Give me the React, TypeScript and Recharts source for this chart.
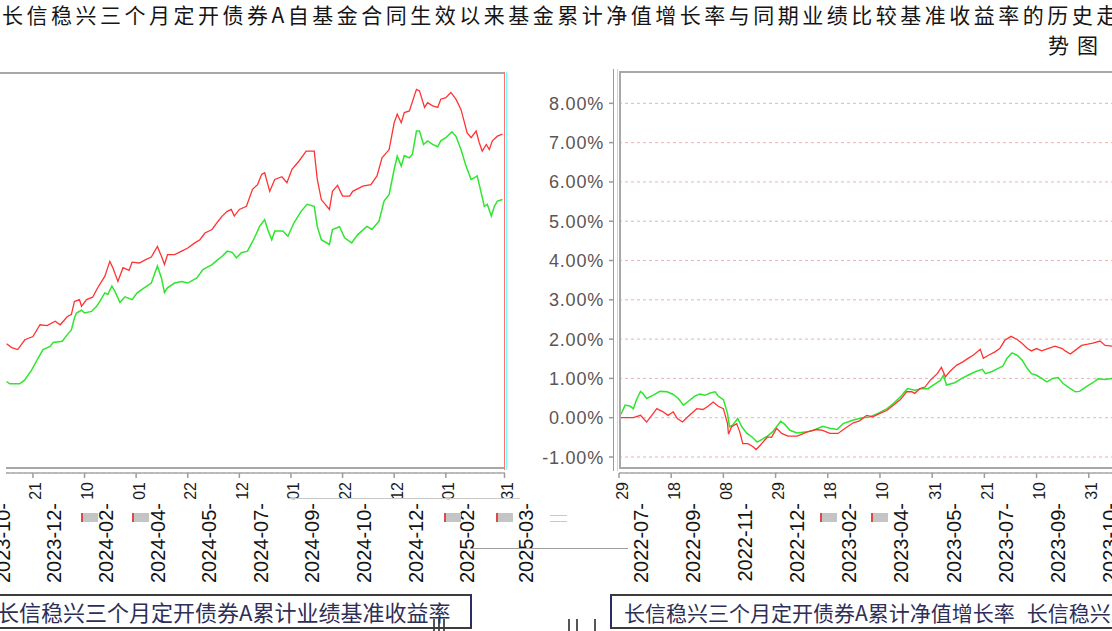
import React from 'react'
import { LineChart, Line, XAxis, YAxis, CartesianGrid } from 'recharts'

// left panel: days from 2023-12-21
const leftTicks = [-51, 0, 51, 102, 153, 204, 255, 306, 357, 408, 466]
const leftTickLabels = ['2023-10-31', '2023-12-21', '2024-02-10', '2024-04-01', '2024-05-22', '2024-07-12', '2024-09-01', '2024-10-22', '2024-12-12', '2025-02-01', '2025-03-31']

const leftBenchDays = [-26, -21, -15, -8, 0, 7, 14, 22, 27, 34, 38, 41, 46, 48, 53, 59, 64, 71, 76, 79, 84, 89, 95, 98, 105, 112, 117, 123, 127, 130, 133, 140, 147, 153, 160, 165, 170, 177, 183, 187, 192, 196, 199, 204, 211, 217, 222, 226, 229, 234, 239, 246, 251, 256, 263, 270, 278, 281, 285, 293, 296, 301, 306, 313, 316, 326, 334, 340, 345, 352, 357, 360, 364, 367, 372, 379, 382, 387, 390, 395, 400, 403, 408, 413, 418, 423, 426, 429, 433, 438, 441, 444, 448, 451, 454, 459, 464]
const leftBench = [1.91, 1.81, 1.76, 2.01, 2.09, 2.39, 2.37, 2.48, 2.39, 2.6, 2.65, 2.98, 3.03, 2.86, 3.03, 3.09, 3.33, 3.62, 4.0, 3.84, 3.49, 3.84, 3.77, 3.98, 3.96, 4.05, 4.11, 4.38, 4.13, 3.92, 4.17, 4.17, 4.26, 4.34, 4.47, 4.55, 4.72, 4.81, 5.02, 5.15, 5.27, 5.32, 5.15, 5.32, 5.4, 5.83, 5.95, 6.21, 6.25, 5.78, 6.08, 6.15, 6.0, 6.34, 6.55, 6.8, 6.8, 6.08, 5.57, 5.32, 5.78, 5.93, 5.66, 5.66, 5.78, 5.91, 5.95, 6.17, 6.63, 6.84, 7.52, 7.74, 7.52, 7.78, 7.82, 8.37, 8.33, 7.91, 8.03, 7.95, 7.91, 8.12, 8.16, 8.29, 8.12, 7.86, 7.57, 7.27, 7.14, 7.31, 7.02, 6.8, 6.97, 6.84, 7.06, 7.18, 7.23]

const leftNavDays = [-26, -23, -13, -8, -1, 5, 10, 17, 20, 29, 34, 38, 41, 43, 48, 51, 58, 63, 66, 71, 74, 78, 81, 86, 91, 98, 103, 110, 117, 123, 127, 130, 133, 140, 147, 153, 162, 168, 177, 183, 187, 192, 197, 201, 206, 212, 219, 224, 229, 232, 236, 239, 247, 252, 258, 265, 271, 278, 281, 285, 293, 296, 303, 308, 315, 321, 330, 335, 342, 347, 352, 357, 360, 364, 367, 372, 375, 379, 382, 386, 390, 395, 400, 403, 408, 414, 418, 423, 428, 433, 436, 439, 443, 446, 449, 453, 456, 459, 464]
const leftNav = [0.95, 0.89, 0.89, 0.99, 1.25, 1.54, 1.76, 1.84, 1.94, 1.97, 2.14, 2.26, 2.56, 2.69, 2.76, 2.69, 2.73, 2.86, 2.98, 3.2, 3.16, 3.37, 3.24, 2.96, 3.1, 3.03, 3.2, 3.33, 3.45, 3.88, 3.58, 3.21, 3.33, 3.45, 3.49, 3.45, 3.58, 3.79, 3.92, 4.05, 4.13, 4.26, 4.23, 4.09, 4.22, 4.26, 4.6, 4.89, 5.06, 4.81, 4.55, 4.77, 4.77, 4.64, 4.98, 5.27, 5.45, 5.4, 4.89, 4.55, 4.43, 4.81, 4.88, 4.6, 4.47, 4.68, 4.89, 4.81, 5.02, 5.53, 5.7, 6.34, 6.67, 6.42, 6.69, 6.63, 6.72, 7.31, 7.31, 6.97, 7.06, 6.97, 6.91, 7.06, 7.14, 7.29, 7.18, 6.84, 6.42, 6.08, 6.12, 6.17, 5.74, 5.4, 5.45, 5.15, 5.4, 5.53, 5.57]

// right panel: days from 2022-07-29
const rightTicks = [0, 51, 102, 153, 204, 255, 306, 357, 408, 459]
const rightTickLabels = ['2022-07-29', '2022-09-18', '2022-11-08', '2022-12-29', '2023-02-18', '2023-04-10', '2023-05-31', '2023-07-21', '2023-09-10', '2023-10-31']

const rightNavDays = [0, 3, 6, 11, 14, 17, 21, 23, 27, 33, 40, 47, 53, 58, 63, 67, 74, 79, 84, 89, 94, 97, 102, 106, 108, 111, 116, 120, 125, 130, 135, 141, 146, 150, 154, 158, 162, 167, 174, 184, 190, 199, 206, 213, 219, 229, 238, 245, 253, 262, 268, 275, 279, 282, 289, 296, 302, 307, 314, 317, 320, 328, 335, 341, 348, 355, 358, 364, 370, 375, 379, 384, 389, 394, 399, 403, 408, 413, 418, 424, 429, 434, 441, 446, 450, 457, 463, 468, 475, 482]
const rightNav = [0.02, 0.15, 0.32, 0.29, 0.23, 0.45, 0.67, 0.63, 0.49, 0.57, 0.67, 0.66, 0.59, 0.49, 0.32, 0.4, 0.55, 0.6, 0.57, 0.63, 0.66, 0.55, 0.46, 0.11, -0.23, -0.19, -0.02, -0.23, -0.4, -0.49, -0.62, -0.53, -0.45, -0.36, -0.23, -0.09, -0.17, -0.32, -0.39, -0.36, -0.32, -0.22, -0.27, -0.3, -0.15, -0.06, 0.0, 0.02, 0.11, 0.23, 0.36, 0.53, 0.66, 0.74, 0.7, 0.74, 0.74, 0.83, 0.95, 1.08, 0.83, 0.89, 1.0, 1.08, 1.17, 1.23, 1.12, 1.17, 1.25, 1.31, 1.51, 1.65, 1.59, 1.46, 1.25, 1.12, 1.08, 1.0, 0.91, 1.0, 1.02, 0.87, 0.74, 0.66, 0.67, 0.8, 0.89, 0.99, 0.97, 1.0]

const rightBenchDays = [0, 14, 21, 27, 32, 37, 43, 48, 53, 57, 62, 67, 76, 82, 87, 92, 97, 102, 106, 107, 110, 115, 118, 121, 126, 131, 134, 138, 145, 149, 154, 159, 165, 174, 184, 193, 199, 206, 214, 221, 229, 235, 242, 248, 255, 262, 268, 275, 281, 286, 289, 294, 299, 304, 311, 315, 319, 323, 330, 336, 341, 346, 353, 356, 361, 367, 372, 377, 383, 389, 394, 399, 403, 408, 413, 419, 426, 433, 436, 441, 446, 452, 458, 463, 470, 475, 482]
const rightBench = [0.0, 0.0, 0.06, -0.11, 0.06, 0.23, 0.15, 0.06, 0.15, -0.02, -0.11, 0.02, 0.23, 0.21, 0.29, 0.4, 0.29, 0.23, -0.15, -0.42, -0.23, -0.15, -0.36, -0.66, -0.66, -0.74, -0.81, -0.7, -0.49, -0.5, -0.27, -0.4, -0.47, -0.47, -0.36, -0.3, -0.32, -0.4, -0.4, -0.27, -0.13, -0.08, 0.06, 0.02, 0.11, 0.19, 0.32, 0.46, 0.66, 0.66, 0.62, 0.74, 0.78, 0.95, 1.12, 1.28, 1.04, 1.17, 1.34, 1.42, 1.51, 1.59, 1.74, 1.51, 1.59, 1.67, 1.76, 1.97, 2.07, 1.99, 1.89, 1.76, 1.7, 1.76, 1.7, 1.76, 1.82, 1.76, 1.7, 1.62, 1.72, 1.84, 1.87, 1.9, 1.95, 1.84, 1.82]

const pctTicks = [-1, 0, 1, 2, 3, 4, 5, 6, 7, 8]

const title = '长信稳兴三个月定开债券A自基金合同生效以来基金累计净值增长率与同期业绩比较基准收益率的历史走'
const title2 = '势图'
const navName = '长信稳兴三个月定开债券A累计净值增长率'
const benchName = '长信稳兴三个月定开债券A累计业绩基准收益率'

const RED = '#ff3333'
const GREEN = '#2ee62e'
const GRID = '#e6b4b4'
const FRAME = '#a8a8a8'
const TICK_FONT = '"Liberation Sans", Arial, sans-serif'

const zip = (days: number[], vals: number[]) => days.map((d, i) => ({ d, v: vals[i] }))

function makeDateTick(ticks: number[], labels: string[]) {
  return function DateTick(props: any) {
    const { x, y, payload } = props
    const label = labels[ticks.indexOf(payload.value)] || ''
    const ym = label.slice(0, 8)
    const dd = label.slice(8)
    return (
      <g>
        <line x1={x} y1={y} x2={x} y2={y + 5} stroke="#9c9c9c" strokeWidth={1.5} />
        <text transform={`translate(${x + 8.5},${y + 9}) rotate(-90)`} textAnchor="end" fontSize={16} fontFamily={TICK_FONT} fill="#1a1a1a">
          {dd}
        </text>
        <text transform={`translate(${x + 28.5},${y + 30}) rotate(-90)`} textAnchor="end" fontSize={20} fontFamily={TICK_FONT} fill="#141414">
          {ym}
        </text>
      </g>
    )
  }
}

function PctTick(props: any) {
  const { x, y, payload } = props
  return (
    <g>
      <line x1={x - 10} x2={x - 6} y1={y} y2={y} stroke="#999" strokeWidth={1.5} />
      <text x={x - 15} y={y} dy={6.5} textAnchor="end" fontSize={18} letterSpacing={0.8} fontFamily={TICK_FONT} fill="#5c5555">
        {payload.value.toFixed(2)}%
      </text>
    </g>
  )
}

const LeftTick = makeDateTick(leftTicks, leftTickLabels)
const RightTick = makeDateTick(rightTicks, rightTickLabels)

const abs = (s: React.CSSProperties): React.CSSProperties => ({ position: 'absolute', ...s })

export default function App() {
  const lb = zip(leftBenchDays, leftBench)
  const ln = zip(leftNavDays, leftNav)
  const rb = zip(rightBenchDays, rightBench)
  const rn = zip(rightNavDays, rightNav)

  return (
    <div style={{ position: 'fixed', left: 0, top: 0, width: 1112, height: 631, overflow: 'hidden', background: '#fff', fontFamily: '"Noto Sans CJK SC", sans-serif' }}>
      <div style={abs({ left: 2, top: 1, width: 1300, whiteSpace: 'nowrap', fontSize: 21, letterSpacing: 3.5, color: '#151515', lineHeight: '26px' })}>{title}</div>
      <div style={abs({ right: 6, top: 31, fontSize: 21, letterSpacing: 8, color: '#151515', lineHeight: '26px' })}>{title2}</div>

      <div style={abs({ left: 0, top: 0 })}>
        <LineChart width={560} height={631} margin={{ top: 72.5, right: 55, bottom: 128, left: 6 }}>
          <CartesianGrid horizontal vertical={false} stroke={GRID} strokeDasharray="3 3" />
          <XAxis dataKey="d" type="number" domain={[-26.6, 466.5]} allowDataOverflow ticks={leftTicks} interval={0} height={30} tickSize={0} tickMargin={0} tickLine={false} axisLine={{ stroke: FRAME, strokeWidth: 1.5 }} tick={<LeftTick />} />
          <YAxis type="number" domain={[-1.374, 8.797]} allowDataOverflow ticks={pctTicks} width={0} tick={false} tickLine={false} axisLine={false} />
          <Line data={ln} dataKey="v" stroke={GREEN} strokeWidth={1.5} dot={false} isAnimationActive={false} />
          <Line data={lb} dataKey="v" stroke={RED} strokeWidth={1.3} dot={false} isAnimationActive={false} />
        </LineChart>
      </div>

      <div style={abs({ left: 530, top: 0 })}>
        <LineChart width={600} height={631} margin={{ top: 71.5, right: 0, bottom: 128, left: 0 }}>
          <CartesianGrid horizontal vertical={false} stroke={GRID} strokeDasharray="3 3" />
          <XAxis dataKey="d" type="number" domain={[0, 499.3]} allowDataOverflow ticks={rightTicks} interval={0} height={30} tickSize={0} tickMargin={0} tickLine={false} axisLine={{ stroke: FRAME, strokeWidth: 1.5 }} tick={<RightTick />} />
          <YAxis type="number" domain={[-1.407, 8.81]} allowDataOverflow ticks={pctTicks} interval={0} width={89} tickSize={0} tickMargin={0} tickLine={false} axisLine={false} tick={<PctTick />} />
          <Line data={rn} dataKey="v" stroke={GREEN} strokeWidth={1.5} dot={false} isAnimationActive={false} />
          <Line data={rb} dataKey="v" stroke={RED} strokeWidth={1.3} dot={false} isAnimationActive={false} />
        </LineChart>
      </div>

      {/* frames */}
      <div style={abs({ left: 0, top: 71.5, width: 505, height: 2, background: FRAME })} />
      <div style={abs({ left: 6, top: 466.5, width: 499, height: 2, background: FRAME })} />
      <div style={abs({ left: 503.5, top: 71.5, width: 1.5, height: 398, background: '#ff7070' })} />
      <div style={abs({ left: 505.5, top: 71.5, width: 1, height: 398, background: '#70ffff' })} />

      <div style={abs({ left: 619, top: 71, width: 500, height: 2, background: FRAME })} />
      <div style={abs({ left: 619, top: 71, width: 1.5, height: 397, background: FRAME })} />
      <div style={abs({ left: 619, top: 466.5, width: 500, height: 2, background: FRAME })} />
      <div style={abs({ left: 612.5, top: 69, width: 1.5, height: 402, background: '#ff7070' })} />
      <div style={abs({ left: 616.5, top: 69, width: 1, height: 402, background: '#70ffff' })} />

      {/* stray marks */}
      <div style={abs({ left: 289, top: 497.5, width: 231, height: 1, background: '#c8c8c8' })} />
      <div style={abs({ left: 470, top: 547.5, width: 158, height: 1.5, background: '#a0a0a0' })} />
      {[81, 132, 444, 496, 820, 871].map((l) => (
        <div key={l} style={abs({ left: l, top: 513, width: 15, height: 9, background: '#c4c4c4', borderLeft: '2px solid #e04848' })} />
      ))}
      <div style={abs({ left: 550, top: 515, width: 17, height: 5, borderTop: '1px solid #c8c8c8', borderBottom: '1px solid #c8c8c8' })} />
      {[433, 438, 443, 568, 576, 594].map((l) => (
        <div key={l} style={abs({ left: l, top: 619, width: 2, height: 12, background: '#555' })} />
      ))}

      {/* legends */}
      <div style={abs({ left: -4, top: 594, width: 474, height: 31, borderTop: '2px solid #3c3c3c', borderRight: '2px solid #2b2b66', borderBottom: '2px solid #3c3c3c', overflow: 'hidden' })}>
        <div style={{ position: 'absolute', left: 1, top: 0, lineHeight: '31px', fontSize: 22, whiteSpace: 'nowrap', color: '#2e2e58' }}>{benchName}</div>
      </div>
      <div style={abs({ left: 610, top: 594, width: 560, height: 31, borderTop: '2px solid #3c3c3c', borderLeft: '2px solid #2b2b66', borderBottom: '2px solid #3c3c3c' })}>
        <div style={{ display: 'flex', alignItems: 'center', height: 31, whiteSpace: 'nowrap', fontSize: 21, color: '#2e2e58' }}>
          <span style={{ marginLeft: 4, width: 22, height: 2, background: '#16e016' }} />
          <span style={{ marginLeft: 8 }}>{navName}</span>
          <span style={{ marginLeft: 8, width: 22, height: 2, background: '#2233ee' }} />
          <span style={{ marginLeft: 4 }}>{benchName}</span>
        </div>
      </div>
    </div>
  )
}
